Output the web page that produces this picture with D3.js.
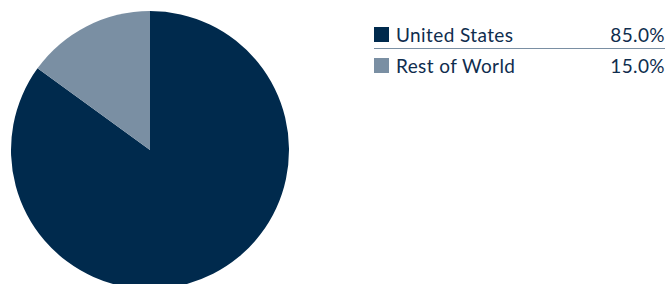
<!DOCTYPE html>
<html>
<head>
<meta charset="utf-8">
<script src="https://cdnjs.cloudflare.com/ajax/libs/d3/7.8.5/d3.min.js"></script>
<style>
  body { margin: 0; background: #fff; }
  svg { display: block; }
  .legend text { font-family: Lato, "Open Sans", sans-serif; font-size: 19px; letter-spacing: 0.4px; fill: #0f2d4e; }
</style>
</head>
<body>
<svg width="668" height="284"></svg>
<script>
var categories = ['United States', 'Rest of World'];
var values = [85.0, 15.0];
var valueLabels = ['85.0%', '15.0%'];
var colors = ['#002a4d', '#7a8fa3'];

var svg = d3.select('svg');

// pie
var radius = 139;
var pieGroup = svg.append('g')
    .attr('transform', 'translate(150,150)');

var pie = d3.pie().sort(null).value(d => d);
var arc = d3.arc().innerRadius(0).outerRadius(radius);

pieGroup.selectAll('path')
    .data(pie(values))
    .enter().append('path')
    .attr('d', arc)
    .attr('fill', (d, i) => colors[i]);

// legend
var legend = svg.append('g')
    .classed('legend', true)
    .attr('transform', 'translate(374,27)');

var rowH = 31;
var rows = legend.selectAll('g.row')
    .data(categories)
    .enter().append('g')
    .classed('row', true)
    .attr('transform', (d, i) => 'translate(0,' + i * rowH + ')');

rows.append('rect')
    .attr('width', 15)
    .attr('height', 15)
    .attr('fill', (d, i) => colors[i]);

rows.append('text')
    .attr('x', 22)
    .attr('y', 14.5)
    .text(d => d);

rows.append('text')
    .attr('x', 291)
    .attr('y', 14.5)
    .attr('text-anchor', 'end')
    .text((d, i) => valueLabels[i]);

// separator between rows
legend.append('line')
    .attr('x1', 0)
    .attr('x2', 291)
    .attr('y1', 21.5)
    .attr('y2', 21.5)
    .attr('stroke', '#7a8fa3')
    .attr('stroke-width', 1);
</script>
</body>
</html>
